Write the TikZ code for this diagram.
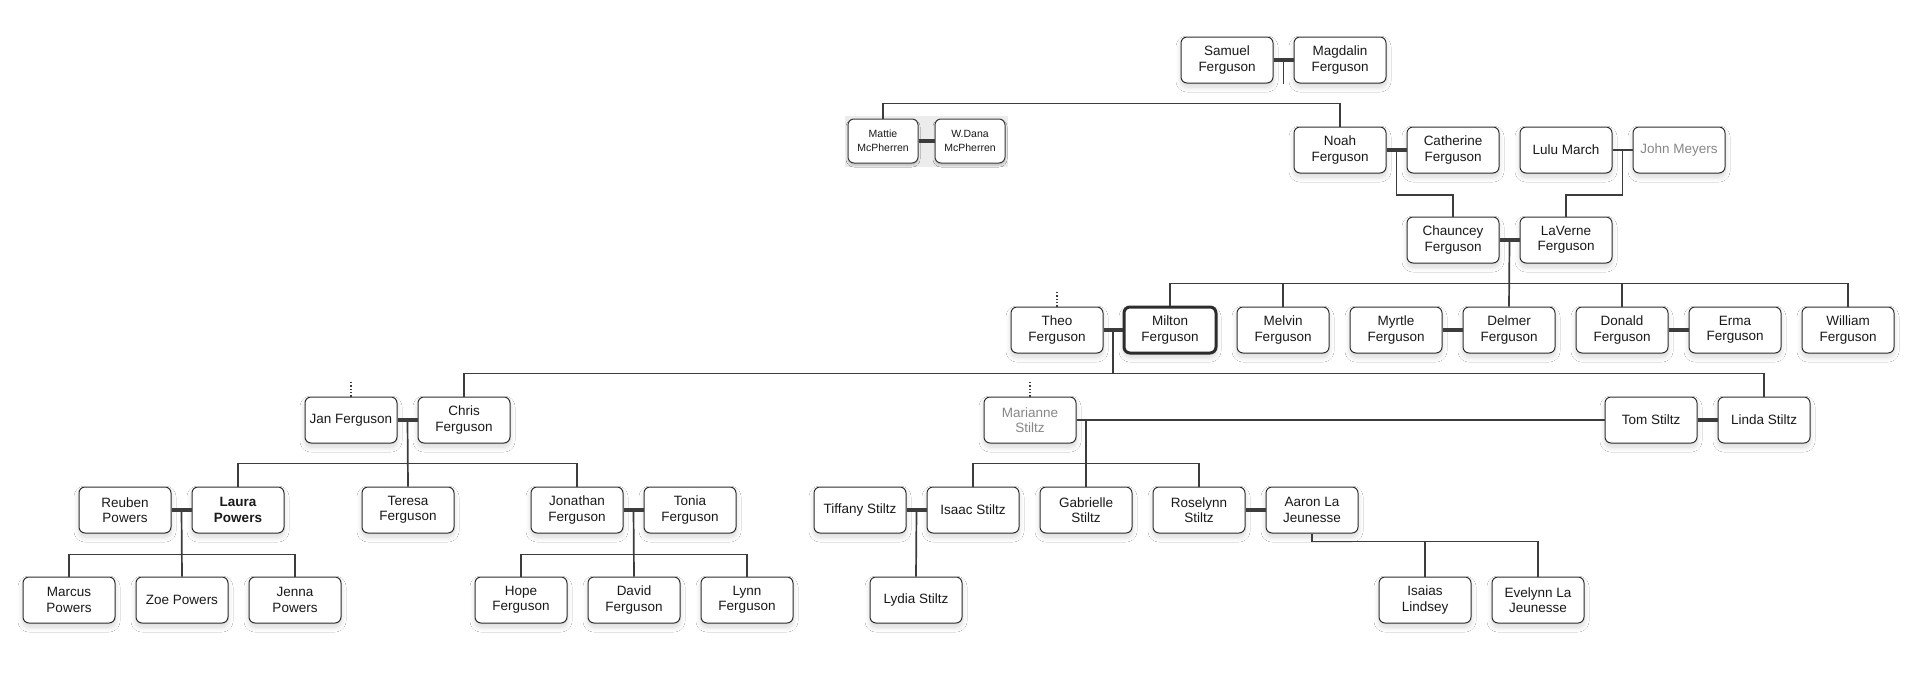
\documentclass[tikz,border=0pt]{standalone}
\usepackage{fontspec}
\setmainfont{Liberation Sans}
\usetikzlibrary{calc,shadows.blur}
\definecolor{lineclr}{RGB}{60,60,60}
\definecolor{boxclr}{RGB}{45,45,45}
\definecolor{inkclr}{RGB}{25,25,25}
\definecolor{fadeclr}{RGB}{135,135,135}
\definecolor{patchclr}{RGB}{236,236,236}

\tikzset{
  person/.style={draw=boxclr, fill=white, line width=1pt, rounded corners=6pt,
    minimum width=92pt, minimum height=46pt, inner sep=1pt, align=center,
    text=inkclr, font=\fontsize{13.5}{15.3}\selectfont,
    blur shadow={shadow xshift=0pt, shadow yshift=-4pt, shadow blur steps=12,
      shadow blur radius=5pt, shadow opacity=16}},
  focusbox/.style={person, line width=3pt},
  greybox/.style={person, text=fadeclr},
  minibox/.style={person, minimum width=70pt, minimum height=44pt, draw=lineclr,
    font=\fontsize{10.5}{14}\selectfont,
    blur shadow={shadow xshift=0pt, shadow yshift=-2pt, shadow blur steps=8,
      shadow blur radius=2pt, shadow opacity=12}},
  kin/.style={draw=lineclr, line width=1.7pt},
  wed/.style={draw=lineclr, line width=4.5pt},
  trail/.style={draw=lineclr, line width=1.3pt, dotted},
}

\begin{document}
\begin{tikzpicture}[x=1pt,y=-1pt]
\useasboundingbox (0,0) rectangle (1908,683);
\fill[white] (0,0) rectangle (1908,683);

% Samuel + Magdalin
\node[person] (samuel) at (1227,60) {Samuel\\Ferguson};
\node[person] (magdalin) at (1340,60) {Magdalin\\Ferguson};

% McPherren couple
\fill[patchclr] (845,116) rectangle (1008,167);
\node[minibox] (mattie) at (883,141) {Mattie\\McPherren};
\node[minibox] (wdana) at (970,141) {W.Dana\\McPherren};

% Noah, Catherine, Lulu, John
\node[person] (noah) at (1340,150) {Noah\\Ferguson};
\node[person] (catherine) at (1453,150) {Catherine\\Ferguson};
\node[person] (lulu) at (1566,150) {Lulu March};
\node[greybox] (john) at (1679,150) {John Meyers};

% Chauncey + LaVerne
\node[person] (chauncey) at (1453,240) {Chauncey\\Ferguson};
\node[person] (laverne) at (1566,240) {LaVerne\\Ferguson};

% their children
\node[person] (theo) at (1057,330) {Theo\\Ferguson};
\node[focusbox] (milton) at (1170,330) {Milton\\Ferguson};
\node[person] (melvin) at (1283,330) {Melvin\\Ferguson};
\node[person] (myrtle) at (1396,330) {Myrtle\\Ferguson};
\node[person] (delmer) at (1509,330) {Delmer\\Ferguson};
\node[person] (donald) at (1622,330) {Donald\\Ferguson};
\node[person] (erma) at (1735,330) {Erma\\Ferguson};
\node[person] (william) at (1848,330) {William\\Ferguson};

% Milton's children
\node[person] (jan) at (351,420) {Jan Ferguson};
\node[person] (chris) at (464,420) {Chris\\Ferguson};
\node[greybox] (marianne) at (1030,420) {Marianne\\Stiltz};
\node[person] (tom) at (1651,420) {Tom Stiltz};
\node[person] (linda) at (1764,420) {Linda Stiltz};

% grandchildren
\node[person] (reuben) at (125,510) {Reuben\\Powers};
\node[person] (laura) at (238,510) {\textbf{Laura}\\\textbf{Powers}};
\node[person] (teresa) at (408,510) {Teresa\\Ferguson};
\node[person] (jonathan) at (577,510) {Jonathan\\Ferguson};
\node[person] (tonia) at (690,510) {Tonia\\Ferguson};
\node[person] (tiffany) at (860,510) {Tiffany Stiltz};
\node[person] (isaac) at (973,510) {Isaac Stiltz};
\node[person] (gabrielle) at (1086,510) {Gabrielle\\Stiltz};
\node[person] (roselynn) at (1199,510) {Roselynn\\Stiltz};
\node[person] (aaron) at (1312,510) {Aaron La\\Jeunesse};

% great-grandchildren
\node[person] (marcus) at (69,600) {Marcus\\Powers};
\node[person] (zoe) at (182,600) {Zoe Powers};
\node[person] (jenna) at (295,600) {Jenna\\Powers};
\node[person] (hope) at (521,600) {Hope\\Ferguson};
\node[person] (david) at (634,600) {David\\Ferguson};
\node[person] (lynn) at (747,600) {Lynn\\Ferguson};
\node[person] (lydia) at (916,600) {Lydia Stiltz};
\node[person] (isaias) at (1425,600) {Isaias\\Lindsey};
\node[person] (evelynn) at (1538,600) {Evelynn La\\Jeunesse};

% couples
\draw[wed] (samuel) -- (magdalin);
\draw[wed] (mattie) -- (wdana);
\draw[wed] (noah) -- (catherine);
\draw[kin] (lulu) -- (john);
\draw[wed] (chauncey) -- (laverne);
\draw[wed] (theo) -- (milton);
\draw[wed] (myrtle) -- (delmer);
\draw[wed] (donald) -- (erma);
\draw[wed] (jan) -- (chris);
\draw[kin] (marianne) -- (tom);
\draw[wed] (tom) -- (linda);
\draw[wed] (reuben) -- (laura);
\draw[wed] (jonathan) -- (tonia);
\draw[wed] (tiffany) -- (isaac);
\draw[wed] (roselynn) -- (aaron);

% midpoints of the couples
\coordinate (sm) at ($(samuel.east)!.5!(magdalin.west)$);
\coordinate (nc) at ($(noah.east)!.5!(catherine.west)$);
\coordinate (lj) at ($(lulu.east)!.5!(john.west)$);
\coordinate (cl) at ($(chauncey.east)!.5!(laverne.west)$);
\coordinate (tm) at ($(theo.east)!.5!(milton.west)$);
\coordinate (jc) at ($(jan.east)!.5!(chris.west)$);
\coordinate (rl) at ($(reuben.east)!.5!(laura.west)$);
\coordinate (jt) at ($(jonathan.east)!.5!(tonia.west)$);
\coordinate (ti) at ($(tiffany.east)!.5!(isaac.west)$);

% descent lines
\draw[kin] (sm) -- (sm |- samuel.south);
\draw[kin] (mattie.north) -- ++(0,-15) -| (noah.north);
\draw[kin] (nc) -- ++(0,45) -| (chauncey.north);
\draw[kin] (lj) -- ++(0,45) -| (laverne.north);
\draw[kin] (cl) -- (delmer.north);
\draw[kin] (milton.north) -- ++(0,-22) -| (william.north);
\foreach \k in {melvin,donald}
  \draw[kin] (\k.north) -- ++(0,-23);
\draw[kin] (tm) -- ++(0,44);
\draw[kin] (chris.north) -- ++(0,-23) -| (linda.north);
\draw[kin] (jc) -- (teresa.north);
\draw[kin] (laura.north) -- ++(0,-23) -| (jonathan.north);
\draw[kin] (gabrielle.north |- marianne.east) -- (gabrielle.north);
\draw[kin] (isaac.north) -- ++(0,-23) -| (roselynn.north);
\draw[kin] (rl) -- (zoe.north);
\draw[kin] (marcus.north) -- ++(0,-22) -| (jenna.north);
\draw[kin] (jt) -- (david.north);
\draw[kin] (hope.north) -- ++(0,-22) -| (lynn.north);
\draw[kin] (ti) -- (lydia.north);
\draw[kin] (aaron.south) -- ++(0,8) -| (evelynn.north);
\draw[kin] (isaias.north) -- ++(0,-36);

% unknown parents
\foreach \k in {theo,jan,marianne}
  \draw[trail] (\k.north) -- ++(0,-15);

\end{tikzpicture}
\end{document}
